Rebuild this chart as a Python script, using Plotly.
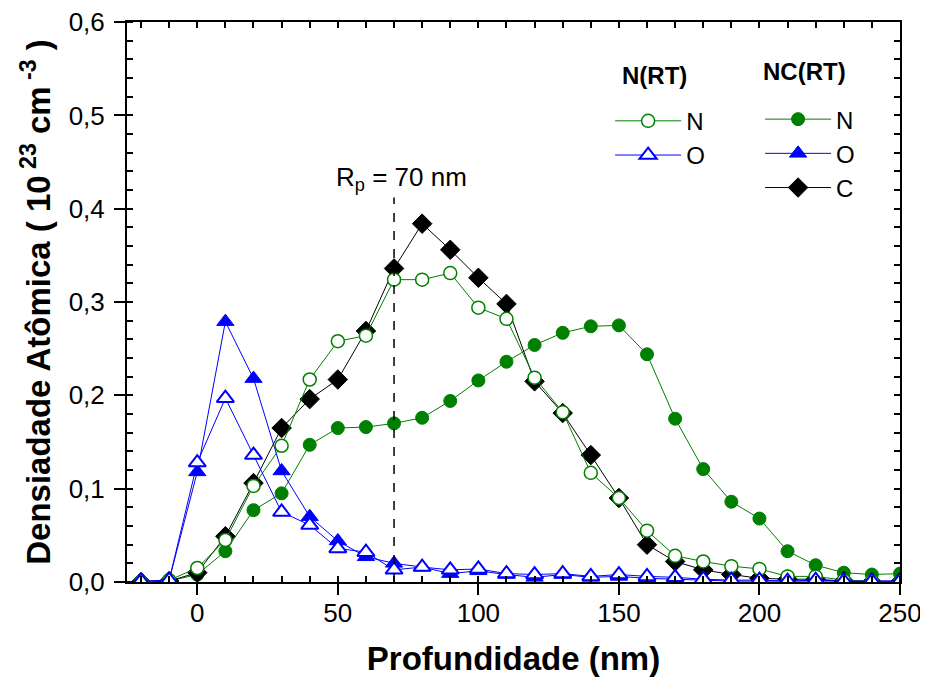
import plotly.graph_objects as go

# Depth (nm)
depth = [-20, -10, 0, 10, 20, 30, 40, 50, 60, 70, 80, 90, 100, 110, 120, 130,
         140, 150, 160, 170, 180, 190, 200, 210, 220, 230, 240, 250]

# N(RT) sample
nrt_N = [0.000, 0.002, 0.015, 0.045, 0.103, 0.146, 0.217, 0.258, 0.264, 0.324,
         0.324, 0.331, 0.294, 0.282, 0.219, 0.182, 0.117, 0.090, 0.055, 0.028,
         0.022, 0.017, 0.014, 0.006, 0.006, 0.002, 0.001, 0.000]
nrt_O = [0.001, 0.002, 0.128, 0.197, 0.136, 0.075, 0.061, 0.036, 0.032, 0.013,
         0.016, 0.013, 0.014, 0.009, 0.008, 0.009, 0.006, 0.008, 0.006, 0.005,
         0.003, 0.002, 0.002, 0.001, 0.002, 0.001, 0.001, 0.001]

# NC(RT) sample
nc_N = [0.000, 0.001, 0.008, 0.033, 0.077, 0.095, 0.147, 0.165, 0.166, 0.170,
        0.176, 0.194, 0.216, 0.236, 0.254, 0.267, 0.274, 0.275, 0.244, 0.175,
        0.121, 0.086, 0.068, 0.033, 0.018, 0.010, 0.008, 0.009]
nc_O = [0.000, 0.002, 0.118, 0.279, 0.218, 0.119, 0.070, 0.044, 0.027, 0.020,
        0.016, 0.009, 0.012, 0.008, 0.005, 0.008, 0.005, 0.006, 0.004, 0.003,
        0.002, 0.001, 0.001, 0.001, 0.001, 0.001, 0.001, 0.001]
nc_C = [0.000, 0.001, 0.010, 0.049, 0.106, 0.165, 0.196, 0.217, 0.269, 0.336,
        0.384, 0.356, 0.326, 0.298, 0.215, 0.181, 0.136, 0.090, 0.040, 0.022,
        0.013, 0.008, 0.004, 0.003, 0.003, 0.001, 0.000, 0.000]

rp_value = 70
rp_top = 0.412

GREEN = "#008000"
BLUE = "#0000FF"
BLACK = "#000000"
FONT = "Arial, Liberation Sans, sans-serif"

fig = go.Figure()

fig.add_trace(go.Scatter(
    x=depth, y=nc_N, name="N", mode="lines+markers", legend="legend2", legendrank=1,
    line=dict(color=GREEN, width=1),
    marker=dict(symbol="circle", size=13, color=GREEN, line=dict(color=GREEN, width=1))))
fig.add_trace(go.Scatter(
    x=depth, y=nc_O, name="O", mode="lines+markers", legend="legend2", legendrank=2,
    line=dict(color=BLUE, width=1),
    marker=dict(symbol="triangle-up", size=15, color=BLUE, line=dict(color=BLUE, width=1))))
fig.add_trace(go.Scatter(
    x=depth, y=nc_C, name="C", mode="lines+markers", legend="legend2", legendrank=3,
    line=dict(color=BLACK, width=1),
    marker=dict(symbol="diamond", size=15, color=BLACK, line=dict(color=BLACK, width=1))))
fig.add_trace(go.Scatter(
    x=depth, y=nrt_N, name="N", mode="lines+markers", legend="legend", legendrank=1,
    line=dict(color=GREEN, width=1),
    marker=dict(symbol="circle", size=13, color="white", line=dict(color=GREEN, width=1.5))))
fig.add_trace(go.Scatter(
    x=depth, y=nrt_O, name="O", mode="lines+markers", legend="legend", legendrank=2,
    line=dict(color=BLUE, width=1),
    marker=dict(symbol="triangle-up", size=15, color="white", line=dict(color=BLUE, width=2))))

# dashed Rp line
fig.add_shape(type="line", xref="x", yref="y", x0=rp_value, x1=rp_value, y0=0, y1=rp_top,
              line=dict(color="black", width=1.5, dash="dash"))
fig.add_annotation(xref="x", yref="y", x=rp_value, y=rp_top, yanchor="bottom", yshift=1,
                   xshift=7, text="R<sub>p</sub> = 70 nm", showarrow=False,
                   font=dict(family=FONT, size=26, color="black"))

# legend group headers
fig.add_annotation(xref="paper", yref="paper", x=0.683, y=0.905, xanchor="center",
                   yanchor="middle", text="<b>N(RT)</b>",
                   showarrow=False, font=dict(family=FONT, size=24, color="black"))
fig.add_annotation(xref="paper", yref="paper", x=0.877, y=0.911, xanchor="center",
                   yanchor="middle", text="<b>NC(RT)</b>",
                   showarrow=False, font=dict(family=FONT, size=24, color="black"))

legend_common = dict(
    bgcolor="rgba(0,0,0,0)", font=dict(family=FONT, size=24, color="black"),
    itemwidth=66, tracegroupgap=0, xanchor="left", yanchor="top",
)
fig.update_layout(
    legend=dict(x=0.625, y=0.863, **legend_common),
    legend2=dict(x=0.819, y=0.866, **legend_common),
)

# page body adds an 8px offset, so the figure is 8px smaller and margins shifted
fig.update_layout(
    width=920, height=670,
    margin=dict(l=119, r=28, t=14, b=96),
    paper_bgcolor="white", plot_bgcolor="white",
    font=dict(family=FONT, color="black"),
    separators=",.",
    xaxis=dict(
        range=[-25, 250], tickmode="linear", tick0=0, dtick=50, automargin=False,
        ticks="outside", ticklen=11, tickwidth=2, tickcolor="black",
        minor=dict(ticks="inside", dtick=10, tick0=0, ticklen=6, tickwidth=2, tickcolor="black"),
        showline=True, linewidth=2, linecolor="black", showgrid=False, zeroline=False,
        tickfont=dict(family=FONT, size=26), ticklabelstandoff=-4, ticklabeloverflow="allow",
        title=dict(text="<b>Profundidade (nm)</b>", font=dict(family=FONT, size=33), standoff=20),
    ),
    yaxis=dict(
        range=[0, 0.6001], tickmode="linear", tick0=0, dtick=0.1, automargin=False,
        ticks="outside", ticklen=11, tickwidth=2, tickcolor="black",
        minor=dict(ticks="inside", dtick=0.02, tick0=0, ticklen=6, tickwidth=2, tickcolor="black"),
        showline=True, linewidth=2, linecolor="black", showgrid=False, zeroline=False,
        tickformat=".1f", ticklabelstandoff=4, ticklabeloverflow="allow",
        tickfont=dict(family=FONT, size=26),
        title=dict(text="<b>Densiadade Atômica ( 10<sup> 23</sup> cm<sup> -3</sup> )</b>",
                   font=dict(family=FONT, size=33), standoff=8),
    ),
    xaxis2=dict(
        overlaying="x", side="top", range=[-25, 250], tickmode="linear", tick0=0, dtick=10,
        ticks="inside", ticklen=6, tickwidth=2, tickcolor="black", showticklabels=False,
        showline=True, linewidth=2, linecolor="black", showgrid=False, zeroline=False,
        automargin=False,
    ),
    yaxis2=dict(
        overlaying="y", side="right", range=[0, 0.6001], tickmode="linear", tick0=0, dtick=0.02,
        ticks="inside", ticklen=6, tickwidth=2, tickcolor="black", showticklabels=False,
        showline=True, linewidth=2, linecolor="black", showgrid=False, zeroline=False,
        automargin=False,
    ),
)

# invisible trace to activate secondary axes
fig.add_trace(go.Scatter(x=[None], y=[None], xaxis="x2", yaxis="y2", showlegend=False,
                         hoverinfo="skip"))

fig.write_html("out.html")
